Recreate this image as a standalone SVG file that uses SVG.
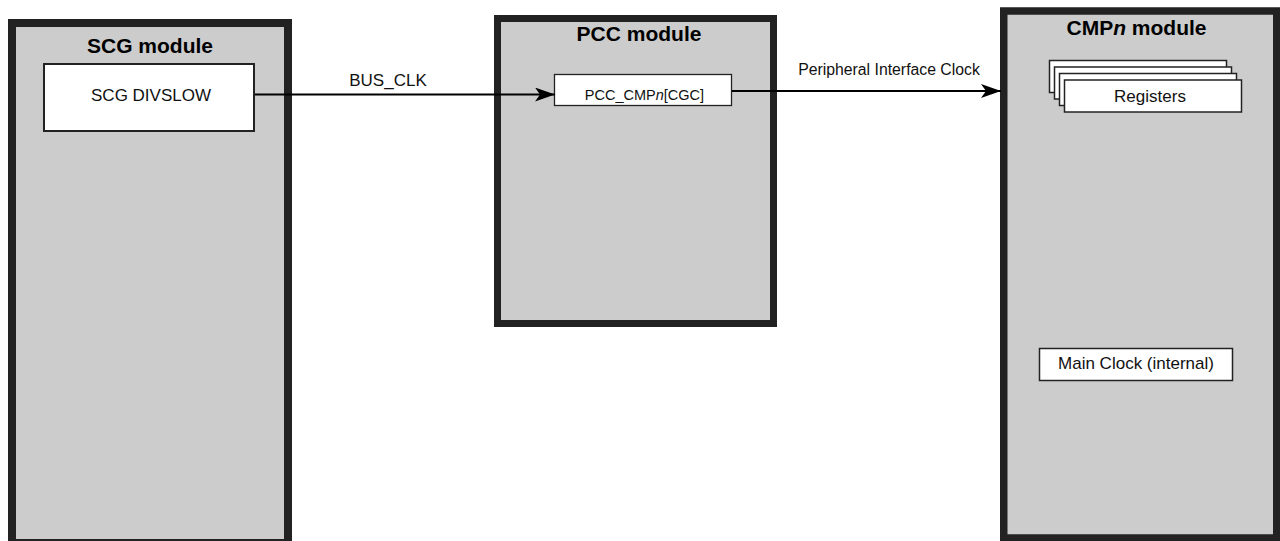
<svg xmlns="http://www.w3.org/2000/svg" width="1280" height="541" viewBox="0 0 1280 541">
<defs>
<marker id="arr" markerWidth="20" markerHeight="14" refX="20" refY="7" orient="auto" markerUnits="userSpaceOnUse">
<path d="M0,0 L20,7 L0,14 L5,7 z" fill="#000"/>
</marker>
<style>
.mod{fill:#cccccc;stroke:#222222}
.box{fill:#ffffff;stroke:#222222}
.title{font-family:"Liberation Sans",Arial,sans-serif;font-weight:bold;font-size:21px;fill:#000;text-anchor:middle}
.lbl{font-family:"Liberation Sans",Arial,sans-serif;font-size:17px;fill:#111;text-anchor:middle}
.wire{stroke:#000;stroke-width:2;fill:none}
</style>
</defs>
<rect width="1280" height="541" fill="#ffffff"/>
<g id="scg">
<rect class="mod" x="12" y="23" width="276" height="520" stroke-width="8"/>
<text class="title" x="150" y="53">SCG module</text>
</g>
<g id="scg-divslow">
<rect class="box" x="44" y="64" width="210" height="67" stroke-width="2"/>
<text class="lbl" x="151" y="101">SCG DIVSLOW</text>
</g>
<g id="pcc">
<rect class="mod" x="497.5" y="18.5" width="276" height="305" stroke-width="7"/>
<text class="title" x="639" y="41">PCC module</text>
</g>
<g id="pcc-cmpn">
<rect class="box" x="554.5" y="74.5" width="177" height="31" stroke-width="1.3"/>
<text class="lbl" x="644.5" y="99.5" style="font-size:14.5px">PCC_CMP<tspan font-style="italic">n</tspan>[CGC]</text>
</g>
<g id="cmpn">
<rect class="mod" x="1003.75" y="11" width="273" height="527" stroke-width="7.5"/>
<text class="title" x="1136.5" y="35">CMP<tspan font-style="italic">n</tspan> module</text>
</g>
<g id="registers">
<rect class="box" x="1049.5" y="60.5" width="177" height="32" stroke-width="1.5"/>
<rect class="box" x="1054.5" y="67" width="177" height="32" stroke-width="1.5"/>
<rect class="box" x="1059.5" y="73.5" width="177" height="32" stroke-width="1.5"/>
<rect class="box" x="1064.5" y="80" width="177" height="32" stroke-width="1.5"/>
<text class="lbl" x="1150" y="102">Registers</text>
</g>
<g id="main-clock">
<rect class="box" x="1039.5" y="348.5" width="193" height="32" stroke-width="1.5"/>
<text class="lbl" x="1136" y="369">Main Clock (internal)</text>
</g>
<g id="connectors">
<line class="wire" x1="255" y1="94.5" x2="555" y2="94.5" marker-end="url(#arr)"/>
<text class="lbl" x="388" y="86">BUS_CLK</text>
<line class="wire" x1="732" y1="91" x2="1001" y2="91" marker-end="url(#arr)"/>
<text class="lbl" x="889" y="75" style="font-size:15.8px">Peripheral Interface Clock</text>
</g>
</svg>
